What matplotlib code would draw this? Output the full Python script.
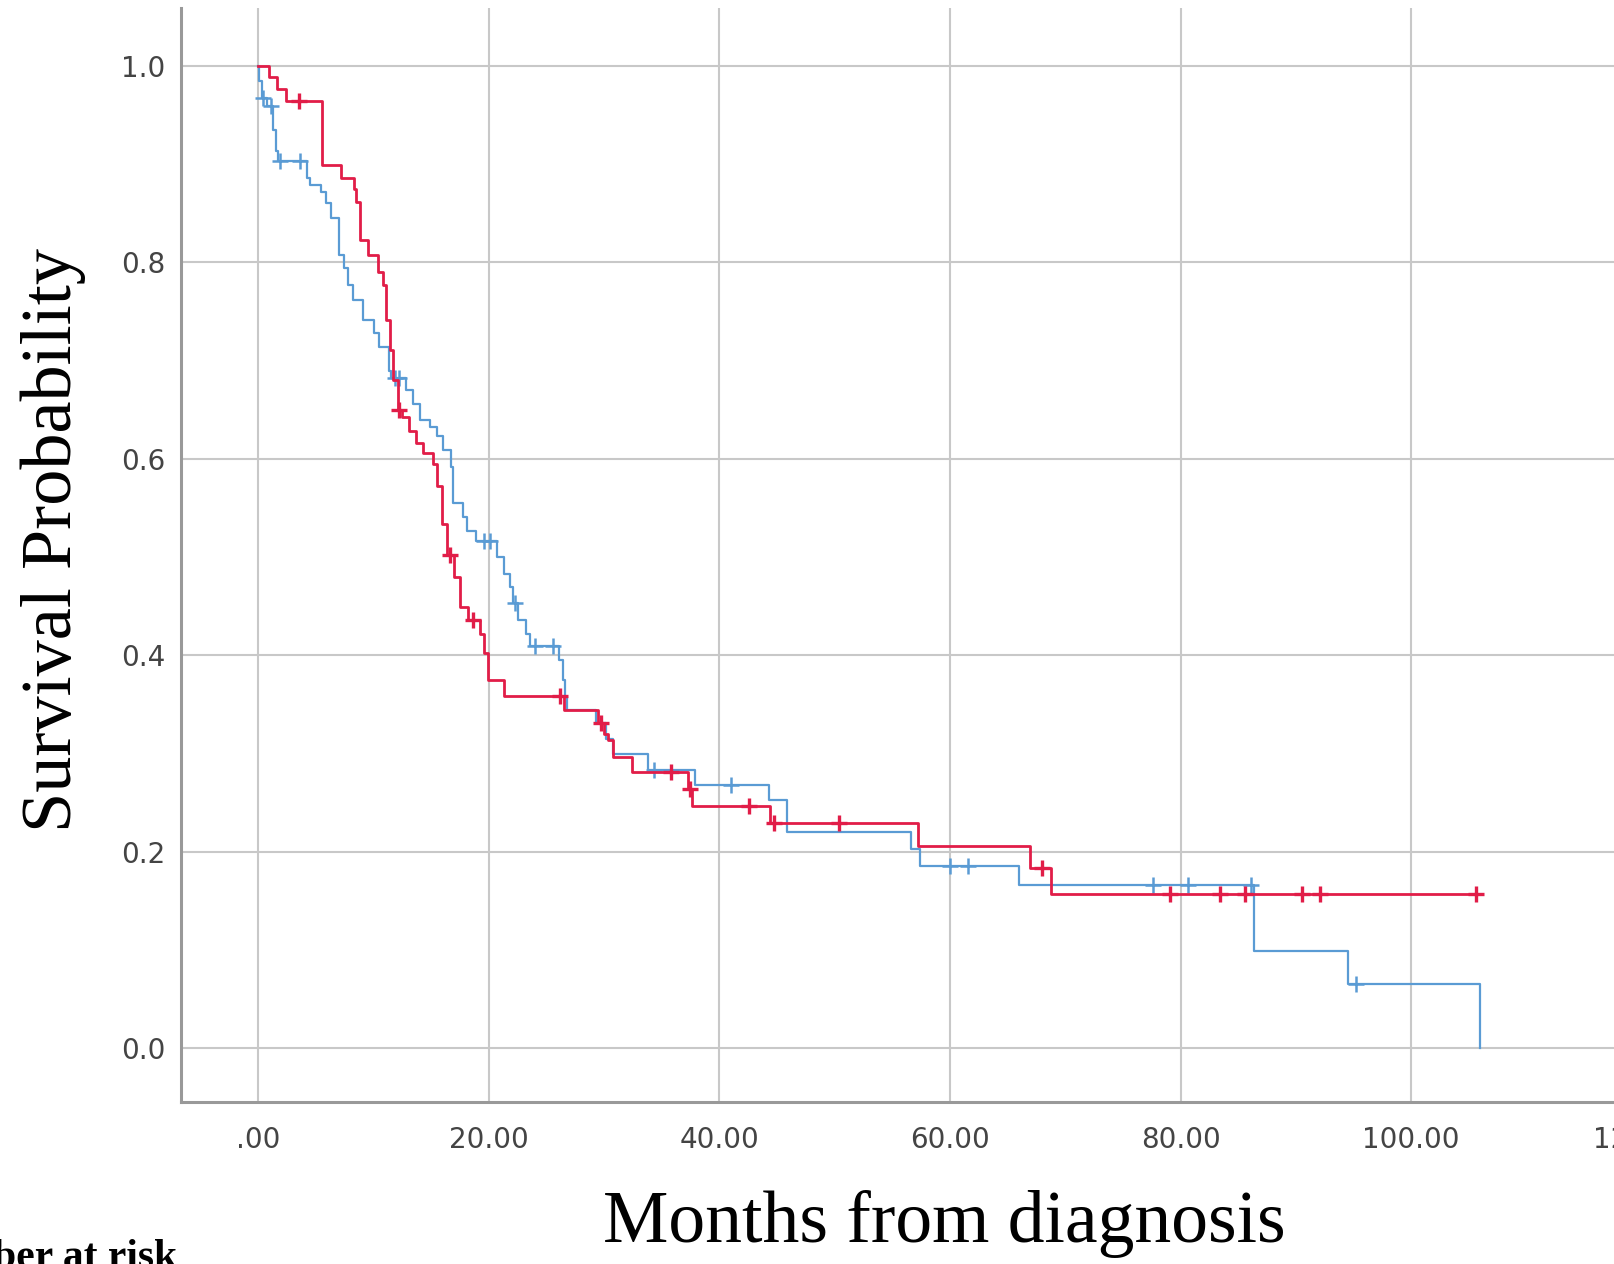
import numpy as np
import matplotlib
matplotlib.use("Agg")
from matplotlib import pyplot as plt

# Kaplan-Meier steps (months, survival after the step)
red_t = [0, 0.9, 1.6, 2.4, 5.5, 7.2, 8.3, 8.5, 8.8, 9.5, 10.4, 10.8, 11.1, 11.4, 11.7,
         12.1, 12.5, 13.1, 13.7, 14.3, 15.2, 15.5, 15.9, 16.4, 17.0, 17.5, 18.2, 19.2,
         19.6, 19.9, 21.3, 26.5, 29.5, 30.0, 30.3, 30.8, 32.4, 37.3, 37.6, 44.4, 57.2,
         66.9, 68.8, 106.0]
red_s = [1.0, 0.989, 0.977, 0.964, 0.899, 0.886, 0.875, 0.862, 0.823, 0.808, 0.790, 0.777,
         0.741, 0.711, 0.680, 0.650, 0.643, 0.628, 0.616, 0.606, 0.595, 0.572, 0.534, 0.502,
         0.480, 0.449, 0.436, 0.422, 0.402, 0.375, 0.359, 0.344, 0.331, 0.320, 0.314, 0.297,
         0.281, 0.264, 0.247, 0.229, 0.206, 0.184, 0.157, 0.157]
red_censor = [3.5, 12.2, 16.6, 18.6, 26.2, 29.7, 35.8, 37.45, 42.6, 44.7, 50.4, 68.0,
              79.1, 83.4, 85.6, 90.5, 92.1, 105.6]

blue_t = [0, 0.1, 0.3, 0.8, 1.3, 1.5, 1.7, 4.2, 4.5, 5.4, 5.9, 6.3, 7.0, 7.4, 7.8, 8.2,
          9.1, 10.0, 10.5, 11.3, 11.5, 12.85, 13.4, 14.0, 14.9, 15.5, 16.0, 16.7, 16.9,
          17.8, 18.1, 18.9, 20.7, 21.3, 21.8, 22.1, 22.5, 23.2, 23.6, 26.1, 26.4, 26.6,
          26.8, 29.3, 30.2, 30.8, 33.8, 37.9, 44.3, 45.9, 56.6, 57.4, 66.0, 86.4, 94.5,
          106.0]
blue_s = [1.0, 0.985, 0.967, 0.959, 0.935, 0.913, 0.903, 0.886, 0.879, 0.872, 0.861, 0.845,
          0.808, 0.794, 0.777, 0.762, 0.741, 0.728, 0.714, 0.690, 0.682, 0.670, 0.656,
          0.640, 0.633, 0.623, 0.609, 0.592, 0.555, 0.541, 0.527, 0.516, 0.500, 0.483,
          0.470, 0.453, 0.436, 0.422, 0.410, 0.395, 0.375, 0.358, 0.344, 0.331, 0.315,
          0.300, 0.283, 0.268, 0.253, 0.220, 0.203, 0.186, 0.166, 0.099, 0.066, 0.0]
blue_censor = [0.4, 1.1, 1.9, 3.6, 11.9, 12.2, 19.6, 20.1, 22.3, 24.0, 25.6, 34.3, 41.0,
               60.0, 61.6, 77.6, 80.6, 86.1, 95.2]

x_ticks = [0, 20, 40, 60, 80, 100, 120]
x_tick_labels = ['.00', '20.00', '40.00', '60.00', '80.00', '100.00', '120.00']
y_ticks = [0.0, 0.2, 0.4, 0.6, 0.8, 1.0]
y_tick_labels = ['0.0', '0.2', '0.4', '0.6', '0.8', '1.0']

red = '#e11d48'
blue = '#5a9bd4'


def censor_y(t, s, c):
    t = np.asarray(t)
    s = np.asarray(s)
    return s[np.searchsorted(t, c, side='right') - 1]


fig = plt.figure(figsize=(16.14, 12.64), dpi=100)
ax = fig.add_axes([0.11214, 0.12785, 0.9408, 0.8658])

ax.step(blue_t, blue_s, where='post', color=blue, lw=1.6, zorder=3)
ax.plot(blue_censor, censor_y(blue_t, blue_s, blue_censor), ls='none', marker='+',
        ms=11, mew=1.8, color=blue, zorder=3)
ax.step(red_t, red_s, where='post', color=red, lw=2.0, zorder=4)
ax.plot(red_censor, censor_y(red_t, red_s, red_censor), ls='none', marker='+',
        ms=12, mew=2.4, color=red, zorder=4)

ax.set_xlim(-6.7, 125)
ax.set_ylim(-0.055, 1.059)
ax.set_xticks(x_ticks)
ax.set_xticklabels(x_tick_labels)
ax.set_yticks(y_ticks)
ax.set_yticklabels(y_tick_labels)
ax.tick_params(length=0, labelsize=20, labelcolor='#444444')
ax.tick_params(axis='x', pad=17)
ax.tick_params(axis='y', pad=11)
ax.grid(True, color='#c8c8c8', lw=1.5)
ax.set_axisbelow(True)
for side in ['top', 'right']:
    ax.spines[side].set_visible(False)
for side in ['left', 'bottom']:
    ax.spines[side].set_color('#999999')
    ax.spines[side].set_linewidth(2.2)

fig.text(21 / 1614, 1 - 540 / 1264, 'Survival Probability', rotation=90,
         family='Liberation Serif', fontsize=52, ha='left', va='center')
fig.text(944 / 1614, 1 - 1242 / 1264, 'Months from diagnosis',
         family='Liberation Serif', fontsize=53, ha='center', va='baseline')
fig.text(177 / 1614, -0.003, 'Number at risk', family='Liberation Serif',
         fontsize=30, fontweight='bold', ha='right', va='baseline')

fig.savefig('out.png', dpi=100)
